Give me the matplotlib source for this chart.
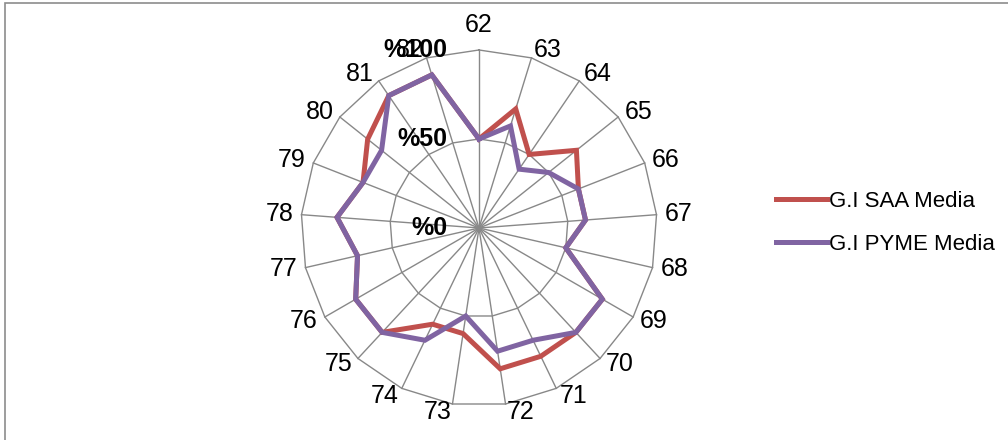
import numpy as np
import matplotlib
matplotlib.use('Agg')
import matplotlib.pyplot as plt
from matplotlib.patches import Rectangle

plt.rcParams['font.family'] = ['Liberation Sans', 'DejaVu Sans']

# 카테고리 (62 ~ 82)
categories = [str(c) for c in range(62, 83)]
saa_media = [50, 70, 50, 70, 60, 60, 50, 80, 80, 80, 80, 60, 60, 80, 80, 70, 80, 70, 80, 90, 90]
pyme_media = [50, 60, 40, 50, 60, 60, 50, 80, 80, 70, 70, 50, 70, 80, 80, 70, 80, 70, 70, 90, 90]
ring_values = [50, 100]
ring_labels = ['%0', '%50', '%100']
label_values = [0, 50, 100]

grid_color = '#888888'
red = '#C0504D'
purple = '#8064A2'

n = len(categories)
theta = np.arange(n) * 2 * np.pi / n
theta_closed = np.append(theta, theta[0])

fig = plt.figure(figsize=(10.08, 4.4), dpi=100)
ax = fig.add_axes([0.2986, 0.0773, 0.3532, 0.8091], projection='polar')
ax.set_theta_zero_location('N')
ax.set_theta_direction(-1)
ax.set_ylim(0, 100)
ax.set_axis_off()

# 다각형 눈금선
for r in ring_values:
    ax.plot(theta_closed, [r] * (n + 1), color=grid_color, lw=1.0, clip_on=False, zorder=1)
for t in theta:
    ax.plot([t, t], [0, 100], color=grid_color, lw=1.0, clip_on=False, zorder=1)

# 데이터 선
def closed(vals):
    return list(vals) + [vals[0]]

l1, = ax.plot(theta_closed, closed(saa_media), color=red, lw=3.6,
              solid_joinstyle='miter', clip_on=False, zorder=3, label='G.I SAA Media')
l2, = ax.plot(theta_closed, closed(pyme_media), color=purple, lw=3.6,
              solid_joinstyle='miter', clip_on=False, zorder=4, label='G.I PYME Media')

# 카테고리 라벨
for t, lab in zip(theta, categories):
    s = np.sin(t)
    if abs(s) < 1e-6:
        ax.text(t, 110, lab, ha='center', va='baseline', fontsize=18, zorder=5)
    else:
        ax.text(t, 104.5, lab, ha='left' if s > 0 else 'right', va='center',
                fontsize=18, zorder=5)

# 축 라벨 (굵게)
for v, lab in zip(label_values, ring_labels):
    ax.annotate(lab, xy=(0, v), xytext=(-23, 0), textcoords='offset points',
                ha='right', va='center', fontsize=18, fontweight='bold', zorder=6,
                annotation_clip=False)

fig.legend(handles=[l1, l2], loc='center left', bbox_to_anchor=(776 / 1008, 0.493),
           bbox_transform=fig.transFigure, frameon=False, fontsize=16,
           handlelength=2.3, handletextpad=0.1, labelspacing=1.0,
           borderpad=0, borderaxespad=0)

# 바깥 테두리
fig.add_artist(Rectangle((5 / 1008, -0.1), 1.2, 437 / 440 + 0.1, transform=fig.transFigure,
                         fill=False, edgecolor='#8c8c8c', lw=1.2))

plt.savefig('out.png', dpi=100)
plt.close()
